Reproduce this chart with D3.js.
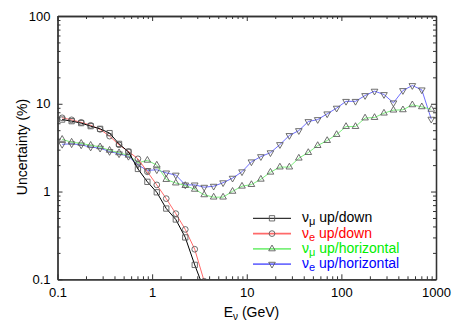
<!DOCTYPE html>
<html>
<head>
<meta charset="utf-8">
<script src="https://cdn.jsdelivr.net/npm/d3@7"></script>
<style>
  body { margin: 0; background: #fff; }
  svg { font-family: "Liberation Sans", Arial, Helvetica, sans-serif; }
</style>
</head>
<body>
<div id="chart"></div>
<script>
'use strict';

// Energy bin centres (GeV), 10 per decade
const energies = [0.112, 0.141, 0.178, 0.224, 0.282, 0.355, 0.447, 0.562, 0.708, 0.891,
  1.12, 1.41, 1.78, 2.24, 2.82, 3.55, 4.47, 5.62, 7.08, 8.91,
  11.2, 14.1, 17.8, 22.4, 28.2, 35.5, 44.7, 56.2, 70.8, 89.1,
  112, 141, 178, 224, 282, 355, 447, 562, 708, 891];

// Uncertainty (%) per series
const numuUpDown = [6.61, 6.34, 6.02, 5.56, 5.18, 4.63, 3.49, 2.83, 1.81, 1.29,
  0.98, 0.64, 0.48, 0.30, 0.146, 0.076];
const nueUpDown = [6.92, 6.56, 6.14, 5.68, 5.11, 4.28, 3.40, 2.86, 2.36, 1.68,
  1.19, 0.83, 0.56, 0.37, 0.22, 0.095];
const numuUpHoriz = [3.93, 3.65, 3.54, 3.36, 3.23, 2.95, 2.76, 2.59, 2.12, 2.27,
  2.00, 1.37, 1.25, 1.17, 1.06, 0.917, 0.863, 0.863, 1.005, 1.15,
  1.20, 1.38, 1.66, 1.90, 1.90, 2.40, 2.78, 3.34, 3.81, 4.46,
  5.50, 5.50, 6.88, 6.97, 7.82, 8.46, 8.53, 9.72, 9.23, 8.64];
const nueUpHoriz = [3.45, 3.50, 3.40, 3.21, 3.12, 2.86, 2.69, 2.52, 2.01, 1.74,
  1.77, 1.63, 1.54, 1.19, 1.19, 1.12, 1.15, 1.26, 1.42, 1.68,
  2.18, 2.50, 2.77, 3.43, 4.35, 4.95, 6.27, 6.61, 7.68, 8.92,
  10.66, 10.66, 12.41, 13.93, 12.74, 10.25, 14.15, 16.13, 14.41, 6.68];

const xTicks = [0.1, 1, 10, 100, 1000];
const yTicks = [0.1, 1, 10, 100];

const series = [
  { sub: 'μ', text: ' up/down', values: numuUpDown, line: '#000000', color: '#000000', marker: 'square' },
  { sub: 'e', text: ' up/down', values: nueUpDown, line: '#ff6a6a', color: '#ff0000', marker: 'circle' },
  { sub: 'μ', text: ' up/horizontal', values: numuUpHoriz, line: '#7cf07c', color: '#00ee00', marker: 'triangle' },
  { sub: 'e', text: ' up/horizontal', values: nueUpHoriz, line: '#6f6fff', color: '#0000ff', marker: 'down' }
];

// Layout
const W = 460, H = 322;
const plot = { left: 57.5, right: 436, top: 16, bottom: 279.3 };

const svg = d3.select('#chart').append('svg')
  .attr('width', W)
  .attr('height', H);

const x = d3.scaleLog().domain([0.1, 1000]).range([plot.left, plot.right]);
const y = d3.scaleLog().domain([0.1, 100]).range([plot.bottom, plot.top]);

// Minor ticks 2..9 in each decade
const minorTicks = domain => {
  const out = [];
  for (let d = domain[0]; d < domain[1]; d *= 10) {
    for (let k = 2; k <= 9; k++) out.push(+(d * k).toPrecision(3));
  }
  return out;
};
const fmt = d => String(d);

// Frame axes: labels bottom/left, mirrored ticks on top/right, all pointing inward
function addAxis(gen, transform, major, minor, labelled, pad) {
  const g = svg.append('g').attr('transform', transform);
  g.call(gen.tickValues(minor).tickSizeInner(-3).tickSizeOuter(0).tickFormat(''));
  const g2 = svg.append('g').attr('transform', transform);
  g2.call(gen.tickValues(major).tickSizeInner(-5).tickSizeOuter(0)
    .tickPadding(pad).tickFormat(labelled ? fmt : ''));
  [g, g2].forEach(s => {
    s.select('.domain').attr('stroke', '#333').attr('stroke-width', 1.3);
    s.selectAll('.tick line').attr('stroke', '#333');
    s.selectAll('text').attr('fill', '#000').style('font-size', '13px')
      .style('font-family', '"Liberation Sans", Arial, sans-serif');
  });
  return g2;
}

addAxis(d3.axisBottom(x), `translate(0,${plot.bottom})`, xTicks, minorTicks([0.1, 1000]), true, 8);
addAxis(d3.axisTop(x), `translate(0,${plot.top})`, xTicks, minorTicks([0.1, 1000]), false, 0);
addAxis(d3.axisLeft(y), `translate(${plot.left},0)`, yTicks, minorTicks([0.1, 100]), true, 7);
addAxis(d3.axisRight(y), `translate(${plot.right},0)`, yTicks, minorTicks([0.1, 100]), false, 0);

// Axis titles
const xTitle = svg.append('text')
  .attr('x', 251.5)
  .attr('y', 317)
  .attr('text-anchor', 'middle')
  .style('font-size', '14px');
xTitle.append('tspan').text('E');
xTitle.append('tspan').attr('dy', 3).style('font-size', '10px').text('ν');
xTitle.append('tspan').attr('dy', -3).text(' (GeV)');

svg.append('text')
  .attr('transform', 'translate(27,147) rotate(-90)')
  .attr('text-anchor', 'middle')
  .style('font-size', '14px')
  .text('Uncertainty (%)');

// Clip curves to the plot box
svg.append('clipPath').attr('id', 'plot-clip')
  .append('rect')
  .attr('x', plot.left).attr('y', plot.top)
  .attr('width', plot.right - plot.left).attr('height', plot.bottom - plot.top);

const symbols = {
  square: d3.symbol().type(d3.symbolSquare).size(28),
  circle: d3.symbol().type(d3.symbolCircle).size(26),
  triangle: d3.symbol().type(d3.symbolTriangle).size(19),
  down: d3.symbol().type(d3.symbolTriangle).size(19)
};
const markerTransform = (s, px, py) =>
  s.marker === 'down' ? `translate(${px},${py}) rotate(180)` : `translate(${px},${py})`;

const line = d3.line()
  .x(d => x(d[0]))
  .y(d => y(d[1]));

const plotLayer = svg.append('g').attr('clip-path', 'url(#plot-clip)');

// Draw in reverse so the black curve ends up on top
series.slice().reverse().forEach(s => {
  const pts = s.values.map((v, i) => [energies[i], v]);
  plotLayer.append('path')
    .datum(pts)
    .attr('d', line)
    .attr('fill', 'none')
    .attr('stroke', s.line)
    .attr('stroke-width', 1);
  plotLayer.selectAll(null)
    .data(pts)
    .enter().append('path')
    .attr('d', symbols[s.marker])
    .attr('transform', d => markerTransform(s, x(d[0]), y(d[1])))
    .attr('fill', 'none')
    .attr('stroke', '#555')
    .attr('stroke-width', 0.85);
});

// Legend
const legend = svg.selectAll('.legend')
  .data(series)
  .enter().append('g')
  .attr('class', 'legend')
  .attr('transform', (d, i) => `translate(0, ${218.3 + i * 15.3})`);

legend.append('line')
  .attr('x1', 253).attr('x2', 291)
  .attr('y1', 0).attr('y2', 0)
  .attr('stroke', d => d.line)
  .attr('stroke-width', d => d.line === '#000000' ? 1 : 1.8);

legend.append('path')
  .attr('d', d => symbols[d.marker]())
  .attr('transform', d => markerTransform(d, 272, 0))
  .attr('fill', 'none')
  .attr('stroke', '#555')
  .attr('stroke-width', 0.85);

const label = legend.append('text')
  .attr('x', 302)
  .attr('y', 4)
  .style('font-size', '14px')
  .attr('fill', d => d.color);
label.append('tspan').text('ν');
label.append('tspan').attr('dy', 3).style('font-size', '11px').text(d => d.sub);
label.append('tspan').attr('dy', -3).text(d => d.text);
</script>
</body>
</html>
